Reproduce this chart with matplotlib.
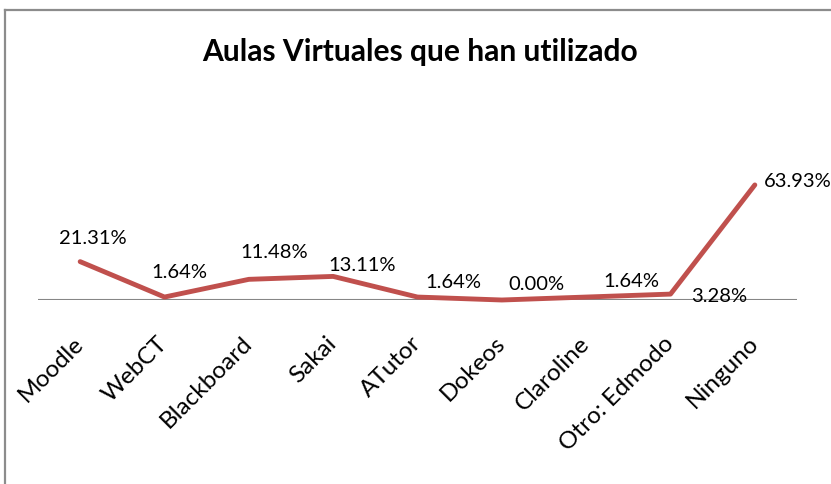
import matplotlib
matplotlib.use("Agg")
import matplotlib.pyplot as plt
from matplotlib.lines import Line2D

categories = ["Moodle", "WebCT", "Blackboard", "Sakai", "ATutor", "Dokeos",
              "Claroline", "Otro: Edmodo", "Ninguno"]
values = [21.31, 1.64, 11.48, 13.11, 1.64, 0.00, 1.64, 3.28, 63.93]
value_labels = ["21.31%", "1.64%", "11.48%", "13.11%", "1.64%", "0.00%",
                "1.64%", "3.28%", "63.93%"]
title = "Aulas Virtuales que han utilizado"

# label offsets in pixels (dx right, dy up) relative to the data point
label_offsets = [(13, 23), (15, 25), (25, 27), (29, 11), (36, 15),
                 (35, 16), (45, 16), (49, -2), (43, 3)]

W, H = 831, 484
dpi = 100
fig = plt.figure(figsize=(W / dpi, H / dpi), dpi=dpi)
fig.patch.set_facecolor("white")

font = "Lato"

# outer chart frame (extends past the right / bottom edges)
fig.add_artist(Line2D([5 / W, 1.01], [1 - 10 / H, 1 - 10 / H],
                      transform=fig.transFigure, color="#8C8C8C", lw=1.6))
fig.add_artist(Line2D([5 / W, 5 / W], [1 - 10 / H, -0.01],
                      transform=fig.transFigure, color="#8C8C8C", lw=1.6))

left, right = 38 / W, 797 / W
bottom, top = 1 - 300 / H, 1 - 120 / H
ax = fig.add_axes([left, bottom, right - left, top - bottom])
ax.set_xlim(-0.5, len(categories) - 0.5)
ax.set_ylim(0, 100)
ax.axis("off")

x = list(range(len(categories)))
ax.axhline(0, color="#868686", lw=1.5, zorder=1)
ax.plot(x, values, color="#C0504D", lw=3.5, solid_capstyle="round",
        solid_joinstyle="round", zorder=3, clip_on=False)

for xi, v, lab, (dx, dy) in zip(x, values, value_labels, label_offsets):
    ax.annotate(lab, (xi, v), xytext=(dx * 72 / dpi, dy * 72 / dpi),
                textcoords="offset points", ha="center", va="center",
                fontsize=14.5, family=font, color="#000000", zorder=4)

for xi, cat in zip(x, categories):
    ax.annotate(cat, (xi, 0), xytext=(0, -40 * 72 / dpi),
                textcoords="offset points", ha="right", va="center",
                rotation=45, rotation_mode="anchor",
                fontsize=17.5, family=font, color="#000000")

fig.text(420 / W, 1 - 52 / H, title, ha="center", va="center",
         fontsize=21.6, fontweight="bold", family=font, color="#000000")

fig.savefig("out.png", dpi=dpi, facecolor="white")
